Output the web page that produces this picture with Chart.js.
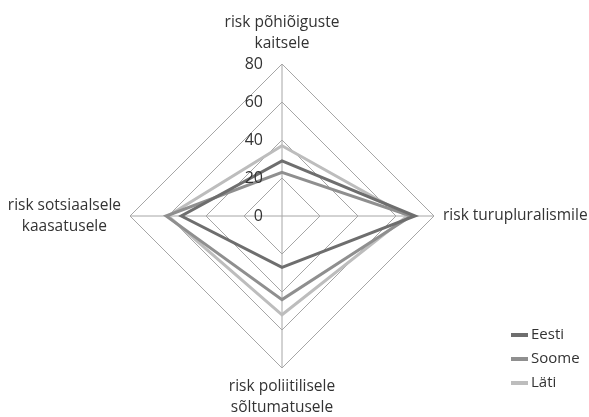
<!DOCTYPE html>
<html>
<head>
<meta charset="utf-8">
<script src="https://cdn.jsdelivr.net/npm/chart.js@4"></script>
<style>
  body { margin: 0; background: #fff; }
  #wrap { position: relative; width: 589px; height: 417px; }
  #legend { position: absolute; left: 511px; top: 323px; font: 15px "Open Sans", sans-serif; color: #333; }
  #legend div { height: 24px; line-height: 20px; white-space: nowrap; }
  #legend span { display: inline-block; width: 17px; height: 4px; vertical-align: middle; margin-right: 3px; }
</style>
</head>
<body>
<div id="wrap">
  <canvas id="radarChart" width="589" height="417"></canvas>
  <div id="legend"></div>
</div>
<script>
const labels = [
  ["risk põhiõiguste", "kaitsele"],
  ["risk turupluralismile"],
  ["risk poliitilisele", "sõltumatusele"],
  ["risk sotsiaalsele", "kaasatusele"]
];
const eesti = [29, 70, 27, 53];
const soome = [23, 68, 44, 61];
const lati = [37, 66, 52, 60];
const tickValues = [0, 20, 40, 60, 80];

const series = [
  { label: "Eesti", data: eesti, color: "#6e6e6e" },
  { label: "Soome", data: soome, color: "#8f8f8f" },
  { label: "Läti", data: lati, color: "#bdbdbd" }
];

// tick numbers left of the vertical axis, category labels around the web
const textPlugin = {
  id: "texts",
  afterDraw(chart) {
    const scale = chart.scales.r;
    const ctx = chart.ctx;
    const r = scale.drawingArea;
    const lh = 21;
    ctx.save();
    ctx.fillStyle = "#333";
    ctx.font = '16px "Open Sans", sans-serif';
    ctx.textAlign = "right";
    ctx.textBaseline = "middle";
    tickValues.forEach(v => {
      const d = scale.getDistanceFromCenterForValue(v);
      ctx.fillText(String(v), scale.xCenter - 19, scale.yCenter - d);
    });
    ctx.font = '15.5px "Open Sans", sans-serif';
    ctx.textAlign = "center";
    labels.forEach((lines, i) => {
      const p = scale.getPointPosition(i, r + 9);
      const w = Math.max(...lines.map(l => ctx.measureText(l).width));
      let x = p.x, y;
      if (i === 0) y = p.y - 11 - (lines.length - 1) * lh;
      else if (i === 2) y = p.y + 10;
      else y = p.y - (lines.length - 1) * lh / 2;
      if (i === 1) x = p.x + w / 2;
      if (i === 3) x = p.x - w / 2;
      lines.forEach((line, j) => ctx.fillText(line, x, y + j * lh));
    });
    ctx.restore();
  }
};

new Chart(document.getElementById("radarChart"), {
  type: "radar",
  data: {
    labels: labels,
    datasets: series.map(s => ({
      label: s.label,
      data: s.data,
      borderColor: s.color,
      backgroundColor: s.color,
      borderWidth: 3,
      pointRadius: 0,
      fill: false,
      tension: 0
    }))
  },
  options: {
    responsive: false,
    animation: false,
    layout: { padding: { left: 0, right: 25, top: 64, bottom: 49 } },
    scales: {
      r: {
        min: 0,
        max: 80,
        ticks: { stepSize: 20, display: false },
        grid: { color: "#a6a6a6", lineWidth: 1 },
        angleLines: { color: "#a6a6a6", lineWidth: 1 },
        pointLabels: { display: false }
      }
    },
    plugins: {
      legend: { display: false },
      tooltip: { enabled: false }
    }
  },
  plugins: [textPlugin]
});

document.getElementById("legend").innerHTML = series
  .map(s => `<div><span style="background:${s.color}"></span>${s.label}</div>`)
  .join("");
</script>
</body>
</html>
